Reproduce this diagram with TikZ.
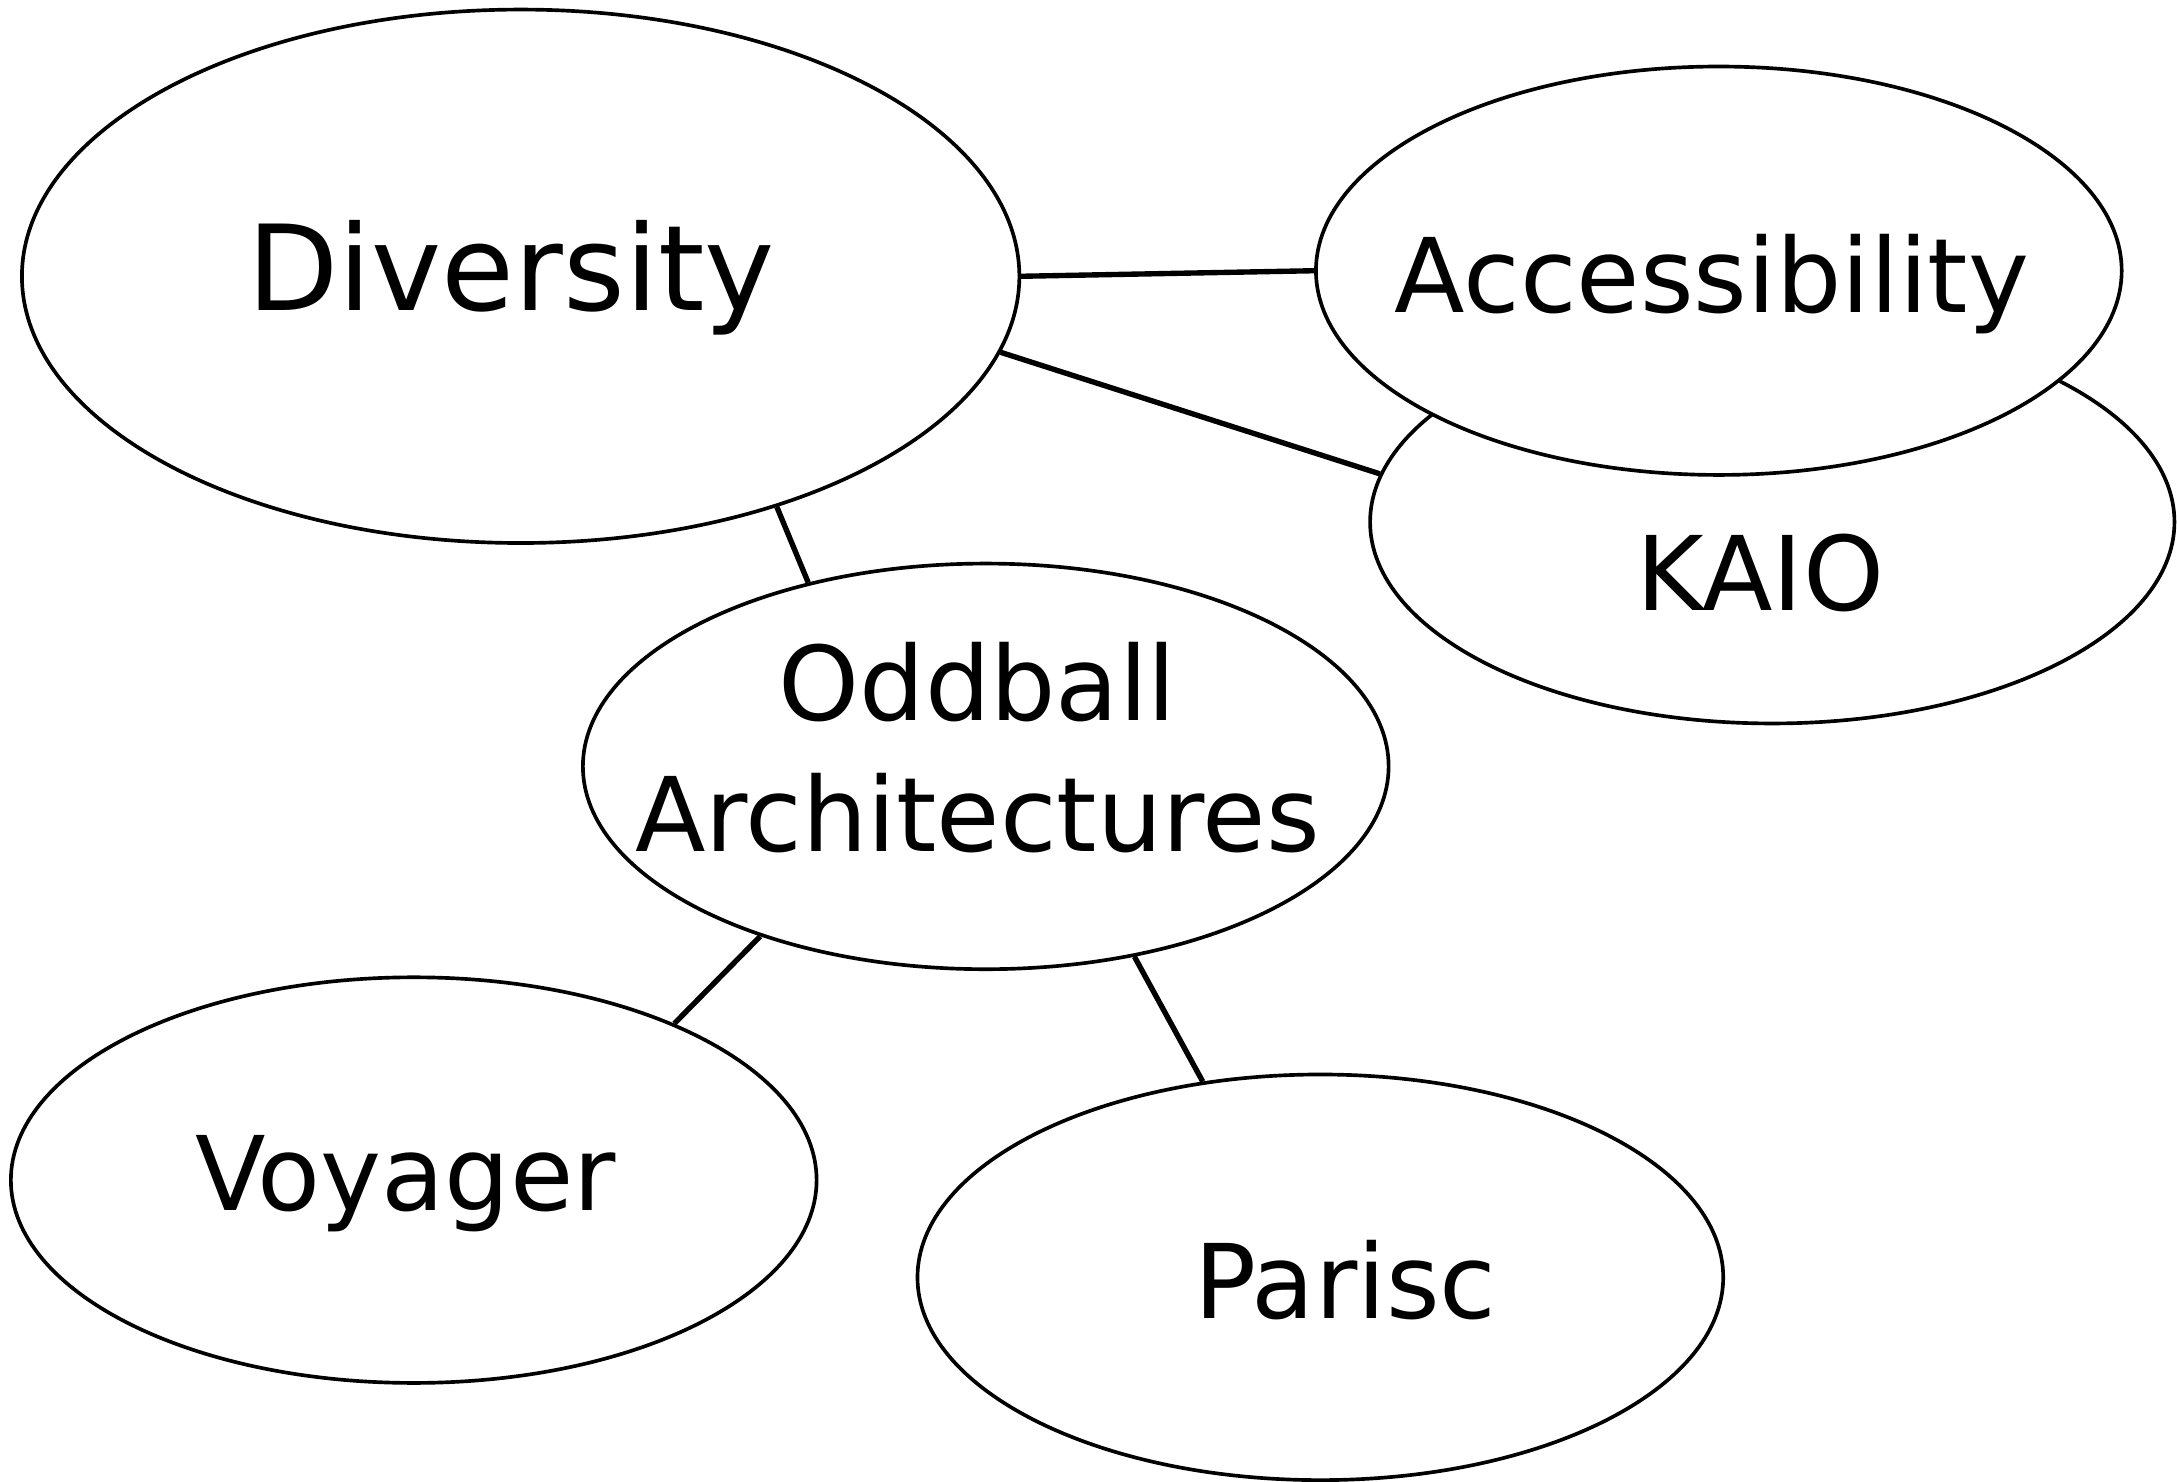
\documentclass[tikz,border=0pt]{standalone}
\usepackage{fontspec}
\setmainfont{DejaVu Sans}
\usetikzlibrary{shapes.geometric}

\tikzset{
  topic/.style={ellipse,draw,fill=white,line width=0.75pt,inner sep=0pt,
    minimum width=5.8cm,minimum height=2.92cm},
  topictext/.style={anchor=base,inner sep=0pt,font=\fontsize{21.1}{26.7}\selectfont},
  link/.style={line width=1.1pt,line cap=butt}
}

\begin{document}
\begin{tikzpicture}[x=0.01cm,y=-0.01cm]
  \useasboundingbox (0,0) rectangle (1568,1067);

  \node[topic,minimum width=7.18cm,minimum height=3.84cm] (div) at (375,199) {};
  \node[topic,minimum width=5.79cm,minimum height=2.9cm] (kaio) at (1276.5,376) {};
  \node[topic,minimum height=2.94cm] (acc) at (1238,195) {};
  \node[topic] (odd) at (710,552) {};
  \node[topic] (voy) at (298,850) {};
  \node[topic] (par) at (951,920) {};

  \node[topictext,font=\fontsize{24.3}{29}\selectfont] (divtext) at (368,224) {Diversity};
  \node[topictext] (acctext) at (1233,225) {Accessibility};
  \node[topictext] (kaiotext) at (1268,440) {KAIO};
  \node[topictext,align=center] (oddtext) at (704,613) {Oddball\\Architectures};
  \node[topictext] (voytext) at (292,872) {Voyager};
  \node[topictext] (partext) at (969,950) {Parisc};

  \draw[link] (div.0.3) -- (acc.180.2);
  \draw[link] (div.-9.25) -- (kaio.173.3);
  \draw[link] (div.-42.9) -- (odd.134.8);
  \draw[link] (odd.217.1) -- (voy.31.4);
  \draw[link] (odd.-52.6) -- (par.121);
\end{tikzpicture}
\end{document}
